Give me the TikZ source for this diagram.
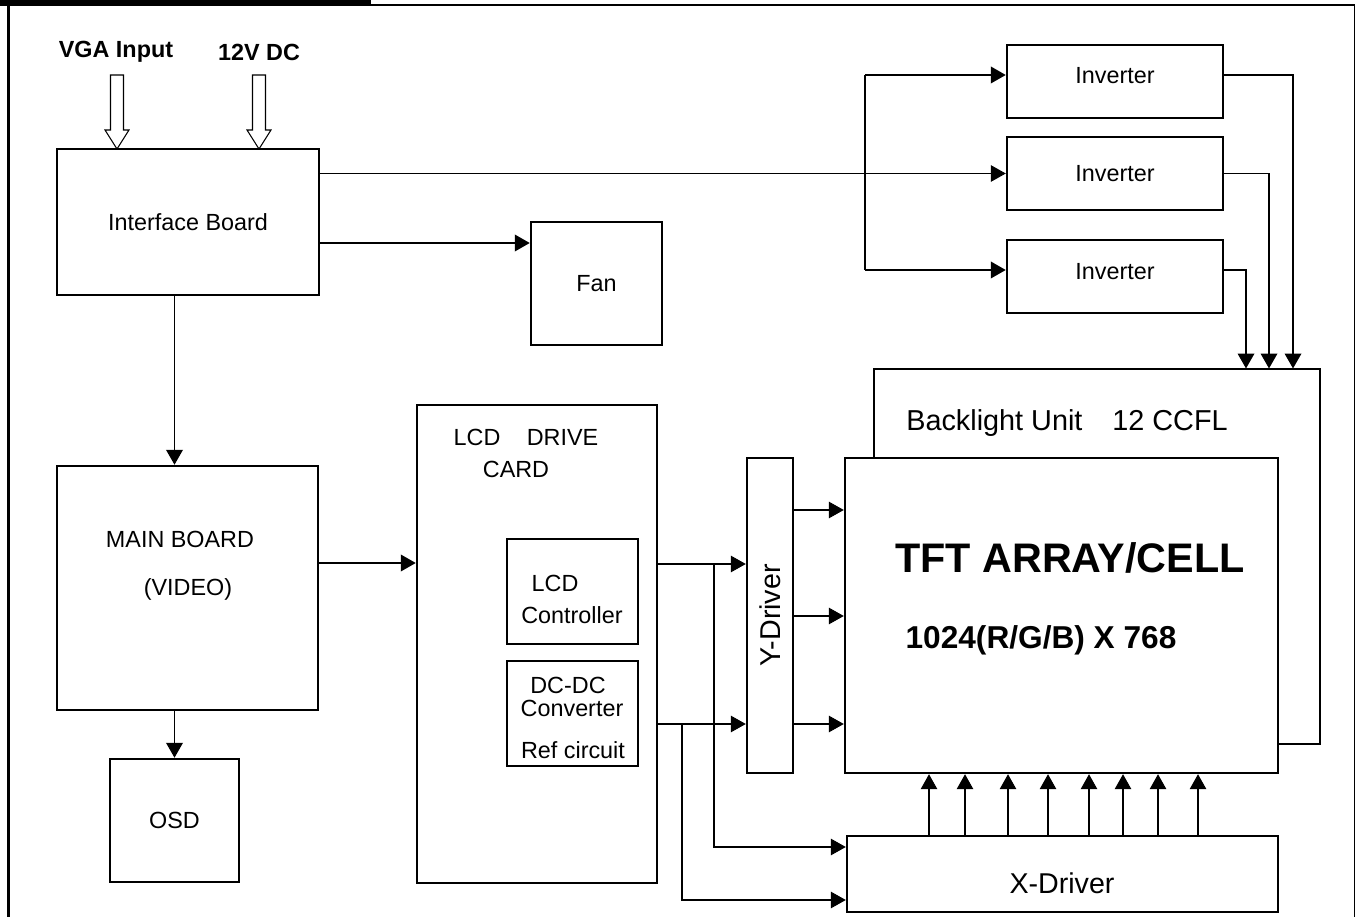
\documentclass[tikz,border=0pt]{standalone}
\usepackage{fontspec}
\setmainfont{Liberation Sans}
\usetikzlibrary{arrows.meta,positioning,calc}

\newcommand{\boxfont}{\fontsize{13.3}{16}\selectfont}

\begin{document}
\begin{tikzpicture}[
        box/.style={draw=black, line width=1.4pt, fill=white, inner sep=0pt, font=\boxfont},
        lbl/.style={inner sep=0pt, font=\boxfont},
        wire/.style={line width=0.6pt},
        link/.style={line width=1.1pt, -{Triangle[length=8.5pt, width=9.4pt]}},
        thinlink/.style={line width=0.6pt, -{Triangle[length=8.5pt, width=9.4pt]}}
    ]
        \useasboundingbox (0,0) rectangle (27.14,-18.34);

        % Frame
        \fill (0,0) rectangle (7.42,-0.11);
        \draw[line width=1.1pt] (0,-0.10) -- (27.09,-0.10);
        \draw[line width=1.4pt] (0.17,-0.10) -- (0.17,-18.34);
        \draw[line width=1.1pt] (27.09,-0.10) -- (27.09,-18.34);

        % Inputs
        \node[lbl, font=\boxfont\bfseries] (vga) at (2.32,-1.04) {VGA Input};
        \node[lbl, font=\boxfont\bfseries] (dc) at (5.18,-1.04) {12V DC};

        % Nodes
        \node[box, minimum width=5.24cm, minimum height=2.92cm] (iface) at (3.76,-4.44) {Interface Board};
        \node[box, minimum width=2.62cm, minimum height=2.46cm] (fan) at (11.93,-5.67) {Fan};
        \node[box, minimum width=5.22cm, minimum height=4.88cm] (main) at (3.75,-11.76) {};
        \node[lbl] (mainlbl) at (3.60,-10.78) {MAIN BOARD};
        \node[lbl] (videolbl) at (3.76,-11.78) {(VIDEO)};
        \node[box, minimum width=2.58cm, minimum height=2.46cm] (osd) at (3.49,-16.41) {OSD};

        \node[box, minimum width=4.80cm, minimum height=9.56cm] (card) at (10.74,-12.88) {};
        \node[lbl] (cardlbl) at (10.52,-8.74) {LCD\hspace{15pt}DRIVE};
        \node[lbl] (cardlbl2) at (10.32,-9.38) {CARD};
        \node[box, minimum width=2.62cm, minimum height=2.10cm] (ctrl) at (11.45,-11.83) {};
        \node[lbl] (ctrllbl) at (11.10,-11.66) {LCD};
        \node[lbl] (ctrllbl2) at (11.44,-12.30) {Controller};
        \node[box, minimum width=2.62cm, minimum height=2.10cm] (dcdc) at (11.45,-14.27) {};
        \node[lbl] (dcdclbl) at (11.36,-13.70) {DC-DC};
        \node[lbl] (dcdclbl2) at (11.44,-14.16) {Converter};
        \node[lbl] (dcdclbl3) at (11.46,-15.00) {Ref circuit};

        \node[box, minimum width=0.92cm, minimum height=6.30cm] (ydrv) at (15.40,-12.31) {};
        \node[lbl, rotate=90, font=\fontsize{16.3}{19}\selectfont] (ydrvlbl) at (ydrv) {Y-Driver};

        \node[draw, line width=0.6pt, minimum width=8.92cm, minimum height=7.50cm] (light) at (21.94,-11.13) {};
        \node[lbl, font=\fontsize{16.4}{19}\selectfont] (lightlbl) at (21.34,-8.46) {Backlight Unit\hspace{17pt}12 CCFL};
        \node[box, minimum width=8.66cm, minimum height=6.30cm] (tft) at (21.23,-12.31) {};
        \node[lbl, font=\fontsize{23.5}{28}\selectfont\bfseries] (tftlbl) at (21.40,-11.16) {TFT ARRAY/CELL};
        \node[lbl, font=\fontsize{18}{22}\selectfont\bfseries] (reslbl) at (20.82,-12.80) {1024(R/G/B) X 768};
        \node[box, minimum width=8.62cm, minimum height=1.52cm] (xdrv) at (21.25,-17.48) {};
        \node[lbl, font=\fontsize{16.3}{19}\selectfont] (xdrvlbl) at (21.24,-17.66) {X-Driver};

        \node[box, minimum width=4.32cm, minimum height=1.46cm] (inv1) at (22.30,-1.63) {};
        \node[lbl] (inv1lbl) at (22.30,-1.51) {Inverter};
        \node[box, minimum width=4.32cm, minimum height=1.46cm] (inv2) at (22.30,-3.47) {Inverter};
        \node[box, minimum width=4.32cm, minimum height=1.46cm] (inv3) at (22.30,-5.53) {};
        \node[lbl] (inv3lbl) at (22.30,-5.43) {Inverter};

        % Hollow input arrows
        \foreach \ax in {2.34,5.18}
            \draw[wire, fill=white] (\ax-0.13,-1.50) -- (\ax+0.13,-1.50) -- (\ax+0.13,-2.60) -- (\ax+0.24,-2.60)
                -- (\ax,-2.98) -- (\ax-0.24,-2.60) -- (\ax-0.13,-2.60) -- cycle;

        % Edges
        \draw[thinlink] (iface.east |- inv2) -- (inv2.west);
        \draw[link] ([yshift=-0.42cm]iface.east) -- ([yshift=-0.42cm]iface.east -| fan.west);
        \draw[link] (iface.south -| osd) -- (main.north -| osd);
        \draw[link] (main.south -| osd) -- (osd);
        \draw[link] ([yshift=0.50cm]main.east) -- ([yshift=0.50cm]main.east -| card.west);

        % Inverter bus
        \coordinate (bus) at (17.30,0);
        \draw[line width=1.1pt] ([yshift=0.13cm]bus |- inv1) -- ([yshift=0.13cm]bus |- inv3);
        \draw[link] ([yshift=0.13cm]bus |- inv1) -- ([yshift=0.13cm]inv1.west);
        \draw[link] ([yshift=0.13cm]bus |- inv3) -- ([yshift=0.13cm]inv3.west);
        \draw[link] ([yshift=0.13cm]inv1.east) -| (light.north -| 25.86,0);
        \draw[link] (inv2.east) -| (light.north -| 25.38,0);
        \draw[link] ([yshift=0.13cm]inv3.east) -| (light.north -| 24.92,0);

        % Card to drivers
        \coordinate (rowa) at (0,-11.28);
        \coordinate (rowb) at (0,-14.48);
        \coordinate (bra) at (14.28,-11.28);
        \coordinate (brb) at (13.64,-14.48);
        \draw[thinlink] (card.east |- rowa) -- (ydrv.west |- rowa);
        \draw[thinlink] (card.east |- rowb) -- (ydrv.west |- rowb);
        \draw[thinlink] (bra) |- ([yshift=0.54cm]xdrv.west);
        \draw[thinlink] (brb) |- ([yshift=-0.52cm]xdrv.west);

        % Drivers to panel
        \foreach \r in {-10.20,-12.32,-14.48}
            \draw[thinlink] (ydrv.east |- 0,\r) -- (tft.west |- 0,\r);
        \foreach \c in {18.58,19.30,20.16,20.96,21.78,22.46,23.16,23.96}
            \draw[thinlink] (xdrv.north -| \c,0) -- (tft.south -| \c,0);
    \end{tikzpicture}
\end{document}
